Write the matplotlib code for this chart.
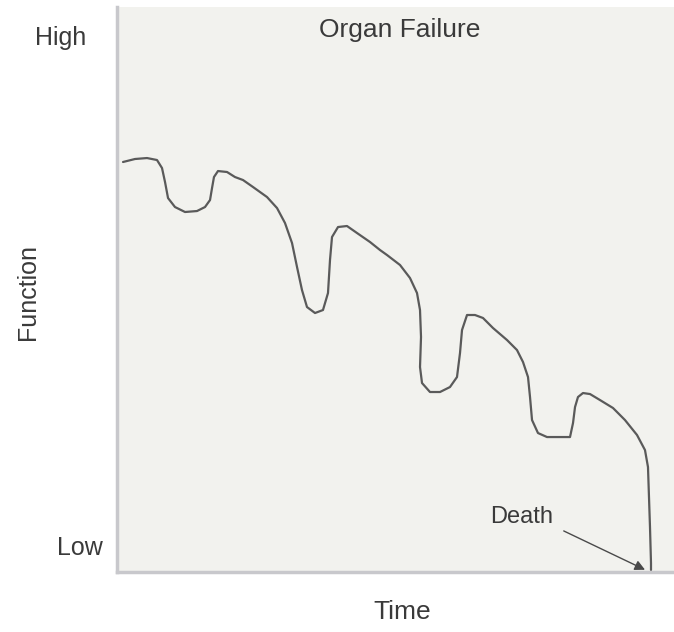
import matplotlib
matplotlib.use("Agg")
import matplotlib.pyplot as plt

# Data (time in 0-100 units, function in 0-100 units)
time = [1.08, 3.23, 5.39, 7.18, 8.08, 8.62, 9.16, 10.41, 12.21, 14.36, 15.80, 16.70,
        17.06, 17.41, 18.13, 19.75, 21.18, 22.62, 24.42, 26.93, 28.73, 30.16, 31.42,
        32.32, 33.21, 34.11, 35.55, 36.98, 37.88, 38.24, 38.60, 39.68, 41.29, 43.09,
        45.42, 47.22, 48.47, 50.81, 52.60, 53.86, 54.40, 54.58, 54.40, 54.76, 56.19,
        57.99, 59.78, 61.04, 61.58, 61.94, 62.84, 64.27, 65.71, 67.50, 70.02, 71.81,
        72.89, 73.79, 74.15, 74.51, 75.58, 77.20, 79.53, 81.33, 81.87, 82.23, 82.76,
        83.66, 84.92, 86.71, 89.05, 91.20, 93.36, 94.79, 95.33, 95.51, 95.69, 95.87,
        95.87]
function = [72.57, 73.10, 73.27, 72.92, 71.50, 69.03, 66.19, 64.60, 63.72, 63.89,
            64.60, 65.84, 67.96, 69.91, 70.97, 70.80, 69.91, 69.38, 68.14, 66.37,
            64.42, 61.77, 58.23, 53.98, 49.91, 46.90, 45.84, 46.37, 49.38, 55.22,
            59.29, 61.06, 61.24, 60.00, 58.41, 56.99, 56.11, 54.34, 52.04, 49.38,
            46.37, 41.59, 36.28, 33.45, 31.86, 31.86, 32.74, 34.51, 38.76, 42.83,
            45.49, 45.49, 44.96, 43.19, 41.06, 39.29, 37.17, 34.51, 30.97, 26.90,
            24.60, 23.89, 23.89, 23.89, 26.37, 29.20, 30.97, 31.68, 31.50, 30.44,
            29.03, 26.90, 24.25, 21.59, 18.58, 13.27, 7.96, 1.59, 0.35]
y_tick_labels = ["Low", "High"]
y_tick_values = [4.2, 94.5]
title = "Organ Failure"
death_label = "Death"
death_point = (94.8, 0.4)
death_text_pos = (72.7, 9.7)

plt.rcParams['font.family'] = ['Liberation Sans', 'DejaVu Sans']
fig = plt.figure(figsize=(6.74, 6.32), dpi=100)
ax = fig.add_axes([0.1736, 0.0949, 0.8264, 0.8940])
ax.set_facecolor('#f2f2ee')
ax.set_xlim(0, 100)
ax.set_ylim(0, 100)

ax.plot(time, function, color='#5a5a5a', lw=1.6,
        solid_joinstyle='round', solid_capstyle='round')

for s in ['top', 'right']:
    ax.spines[s].set_visible(False)
for s in ['left', 'bottom']:
    ax.spines[s].set_color('#c8c8cc')
    ax.spines[s].set_linewidth(2.5)

ax.set_xticks([])
ax.set_yticks([])

text_color = '#3a3a3a'
label_x = [-0.066, -0.102]
for lab, val, lx in zip(y_tick_labels, y_tick_values, label_x):
    ax.text(lx, val, lab, transform=ax.get_yaxis_transform(), ha='center', va='center',
            fontsize=18, color=text_color)

ax.text(50.8, 95.9, title, ha='center', va='center', fontsize=19, color=text_color)
fig.text(28 / 674, 1 - 292 / 632, "Function", rotation=90, ha='center', va='center',
         fontsize=18, color=text_color)
fig.text(402 / 674, 1 - 612 / 632, "Time", ha='center', va='center',
         fontsize=19, color=text_color)

ax.annotate(death_label, xy=death_point, xytext=death_text_pos, ha='center', va='center',
            fontsize=17, color=text_color,
            arrowprops=dict(arrowstyle='-|>', color='#4a4a4a', lw=1.0,
                            mutation_scale=15, shrinkA=6, shrinkB=0,
                            relpos=(1.0, 0.1)))

fig.savefig("out.png", dpi=100)
